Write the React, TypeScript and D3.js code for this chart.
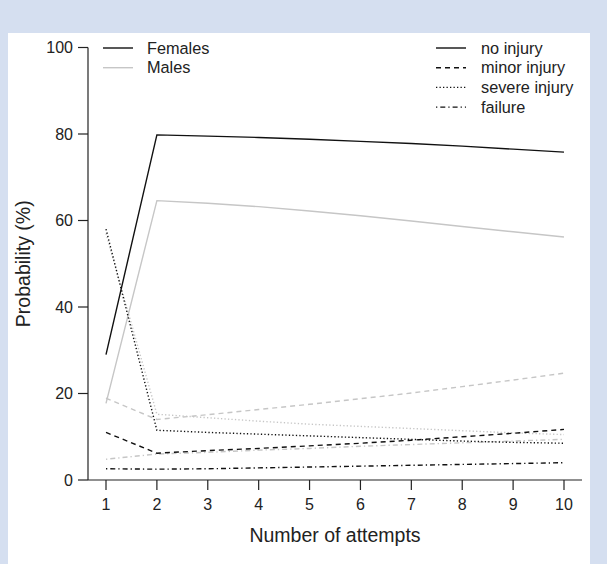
import React from "react";
import * as d3 from "d3";

// attempts on the x axis
const attempts = [1, 2, 3, 4, 5, 6, 7, 8, 9, 10];
const yTicks = [0, 20, 40, 60, 80, 100];

// Females (black)
const femNoInjury = [29, 79.8, 79.5, 79.2, 78.8, 78.3, 77.8, 77.2, 76.5, 75.8];
const femMinor = [11, 6.2, 6.8, 7.3, 7.9, 8.5, 9.2, 10.0, 10.8, 11.7];
const femSevere = [58, 11.5, 11.0, 10.6, 10.2, 9.8, 9.4, 9.0, 8.7, 8.5];
const femFailure = [2.6, 2.5, 2.6, 2.8, 3.0, 3.2, 3.4, 3.6, 3.8, 4.0];

// Males (grey)
const maleNoInjury = [17.7, 64.6, 64.0, 63.2, 62.2, 61.1, 59.9, 58.6, 57.4, 56.2];
const maleMinor = [18.9, 14.0, 15.1, 16.3, 17.5, 18.8, 20.1, 21.6, 23.1, 24.7];
const maleSevere = [57, 15.2, 14.4, 13.6, 12.9, 12.4, 11.9, 11.4, 10.9, 10.5];
const maleFailure = [4.8, 6.0, 6.4, 6.9, 7.3, 7.8, 8.2, 8.6, 9.0, 9.4];

const sexes = ["Females", "Males"];
const outcomes = ["no injury", "minor injury", "severe injury", "failure"];

const colours: Record<string, string> = { Females: "#111", Males: "#c6c6c6" };
const dashes: Record<string, string> = {
  "no injury": "none",
  "minor injury": "5,4",
  "severe injury": "1.3,2.2",
  failure: "1.3,3,5,3",
};

const series = [
  { sex: "Females", outcome: "no injury", values: femNoInjury },
  { sex: "Females", outcome: "minor injury", values: femMinor },
  { sex: "Females", outcome: "severe injury", values: femSevere },
  { sex: "Females", outcome: "failure", values: femFailure },
  { sex: "Males", outcome: "no injury", values: maleNoInjury },
  { sex: "Males", outcome: "minor injury", values: maleMinor },
  { sex: "Males", outcome: "severe injury", values: maleSevere },
  { sex: "Males", outcome: "failure", values: maleFailure },
];

export default function App() {
  const width = 607;
  const height = 564;
  const x = d3.scaleLinear().domain([1, 10]).range([106, 564]);
  const y = d3.scaleLinear().domain([0, 100]).range([480, 47.5]);
  const axisX = 88;
  const axisY = 480;
  const font = "'Liberation Sans', Arial, sans-serif";

  const line = d3
    .line<number>()
    .x((_, i) => x(attempts[i]))
    .y((d) => y(d));

  // males drawn first so the black lines sit on top
  const ordered = [...series].sort((a, b) => (a.sex === "Males" ? -1 : 1) - (b.sex === "Males" ? -1 : 1));

  return (
    <svg
      width={width}
      height={height}
      style={{ position: "absolute", left: 0, top: 0, fontFamily: font }}
    >
      <rect width={width} height={height} fill="#d5dff0" />
      <rect x={8} y={33} width={582} height={height - 33} fill="#fff" />

      {ordered.map((s) => (
        <path
          key={s.sex + s.outcome}
          d={line(s.values) ?? ""}
          fill="none"
          stroke={colours[s.sex]}
          strokeWidth={1.4}
          strokeDasharray={dashes[s.outcome]}
        />
      ))}

      {/* axes */}
      <line x1={axisX} x2={axisX} y1={y(100)} y2={axisY} stroke="#222" strokeWidth={1.2} />
      <line x1={axisX} x2={582} y1={axisY} y2={axisY} stroke="#222" strokeWidth={1.2} />
      {yTicks.map((t) => (
        <g key={t}>
          <line x1={axisX - 10} x2={axisX} y1={y(t)} y2={y(t)} stroke="#222" strokeWidth={1.2} />
          <text x={axisX - 15} y={y(t)} dy="0.35em" textAnchor="end" fontSize={16} fill="#222">
            {t}
          </text>
        </g>
      ))}
      {attempts.map((a) => (
        <g key={a}>
          <line x1={x(a)} x2={x(a)} y1={axisY} y2={axisY + 10} stroke="#222" strokeWidth={1.2} />
          <text x={x(a)} y={axisY + 24} dy="0.35em" textAnchor="middle" fontSize={16} fill="#222">
            {a}
          </text>
        </g>
      ))}
      <text x={(axisX + 582) / 2} y={535} dy="0.35em" textAnchor="middle" fontSize={19.5} fill="#222">
        Number of attempts
      </text>
      <text
        transform={`translate(23,${(y(100) + axisY) / 2}) rotate(-90)`}
        dy="0.35em"
        textAnchor="middle"
        fontSize={19.5}
        fill="#222"
      >
        Probability (%)
      </text>

      {/* legend: sex */}
      {sexes.map((s, i) => (
        <g key={s} transform={`translate(103,${48 + i * 19.7})`}>
          <line x1={0} x2={30} stroke={colours[s]} strokeWidth={1.4} />
          <text x={44} dy="0.35em" fontSize={16.3} fill="#222">
            {s}
          </text>
        </g>
      ))}
      {/* legend: outcome */}
      {outcomes.map((o, i) => (
        <g key={o} transform={`translate(436,${48 + i * 19.7})`}>
          <line x1={0} x2={30} stroke="#111" strokeWidth={1.4} strokeDasharray={dashes[o]} />
          <text x={45} dy="0.35em" fontSize={16.3} fill="#222">
            {o}
          </text>
        </g>
      ))}
    </svg>
  );
}
